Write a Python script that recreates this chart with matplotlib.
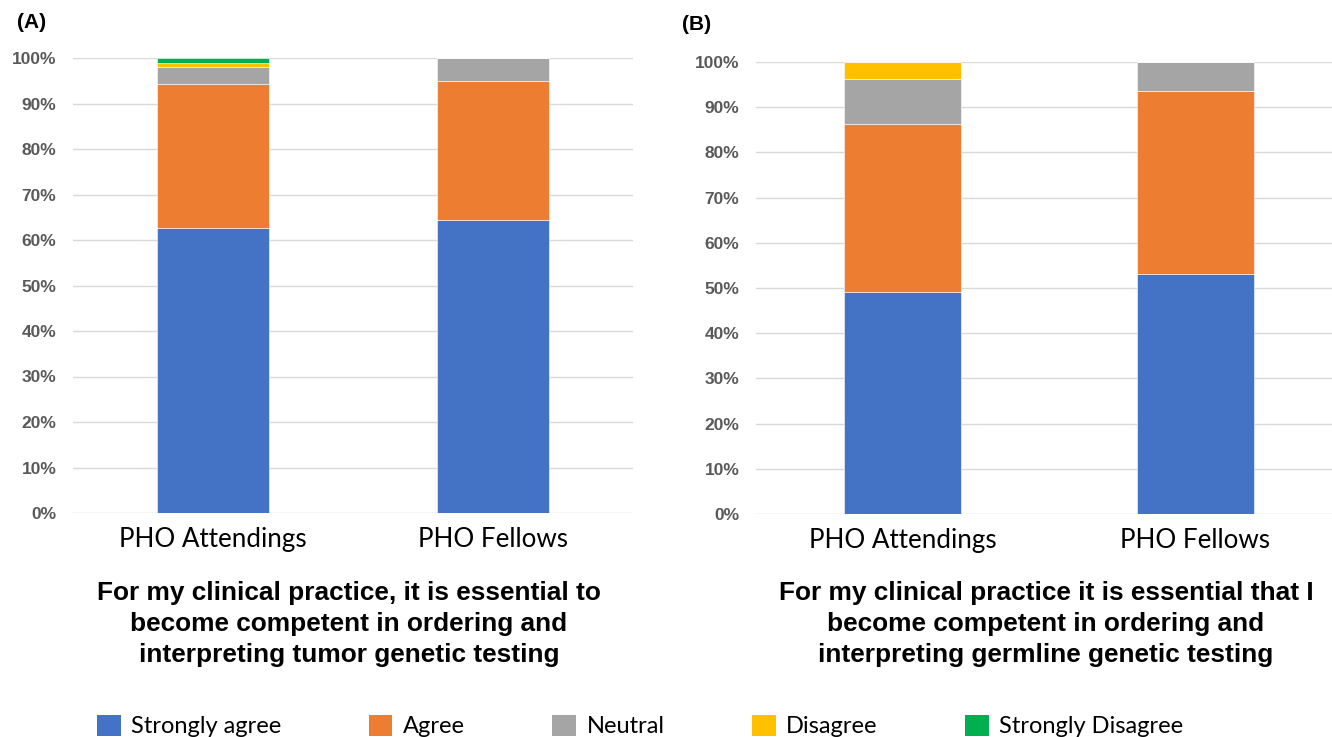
import numpy as np
import matplotlib.pyplot as plt
from matplotlib.patches import Patch

groups = ["PHO Attendings", "PHO Fellows"]
responses = ["Strongly agree", "Agree", "Neutral", "Disagree", "Strongly Disagree"]
colors = ["#4472C4", "#ED7D31", "#A5A5A5", "#FFC000", "#00B050"]

# share of respondents per response, one value per group
tumor_strongly_agree = [62.7, 64.5]
tumor_agree = [31.6, 30.4]
tumor_neutral = [3.7, 5.1]
tumor_disagree = [0.9, 0.0]
tumor_strongly_disagree = [1.1, 0.0]

germline_strongly_agree = [49.1, 53.0]
germline_agree = [37.2, 40.6]
germline_neutral = [9.9, 6.4]
germline_disagree = [3.8, 0.0]
germline_strongly_disagree = [0.0, 0.0]

title_a = ("For my clinical practice, it is essential to\n"
           "become competent in ordering and\n"
           "interpreting tumor genetic testing")
title_b = ("For my clinical practice it is essential that I\n"
           "become competent in ordering and\n"
           "interpreting germline genetic testing")

W, H = 1332, 737
fig = plt.figure(figsize=(W / 100, H / 100), dpi=100)


def px_axes(left, top, right, bottom):
    return fig.add_axes([left / W, 1 - bottom / H, (right - left) / W, (bottom - top) / H])


def stacked(ax, series, xmax):
    x = np.arange(len(groups))
    base = np.zeros(len(groups))
    for vals, c in zip(series, colors):
        vals = np.array(vals) / 100
        ax.bar(x, vals, 0.4, bottom=base, color=c, edgecolor="white", linewidth=0.4, zorder=3)
        base += vals
    ax.set_ylim(0, 1)
    ax.set_xlim(-0.5, xmax)
    ticks = np.arange(0, 1.01, 0.1)
    ax.set_yticks(ticks)
    ax.set_yticklabels([f"{int(round(t * 100))}%" for t in ticks],
                       fontsize=12.5, fontweight="bold", color="#595959", family="Liberation Sans")
    ax.set_xticks(x)
    ax.set_xticklabels(groups, fontsize=18.7, family="Lato")
    ax.tick_params(length=0, pad=10)
    ax.tick_params(axis="y", pad=12)
    ax.grid(axis="y", color="#D9D9D9", linewidth=1, zorder=0)
    for s in ax.spines.values():
        s.set_visible(False)
    ax.set_axisbelow(True)


ax_a = px_axes(73, 58, 633, 513)
stacked(ax_a, [tumor_strongly_agree, tumor_agree, tumor_neutral,
               tumor_disagree, tumor_strongly_disagree], 1.5)

ax_b = px_axes(756, 62, 1332, 514)
stacked(ax_b, [germline_strongly_agree, germline_agree, germline_neutral,
               germline_disagree, germline_strongly_disagree], 1.466)

fig.text(349 / W, 1 - 624 / H, title_a, ha="center", va="center", fontsize=18.9,
         fontweight="bold", family="Liberation Sans", linespacing=1.38)
fig.text(1046 / W, 1 - 624 / H, title_b, ha="center", va="center", fontsize=18.9,
         fontweight="bold", family="Liberation Sans", linespacing=1.38)

fig.text(17 / W, 1 - 23 / H, "(A)", ha="left", va="center", fontsize=15,
         fontweight="bold", family="Liberation Sans")
fig.text(682 / W, 1 - 24 / H, "(B)", ha="left", va="center", fontsize=15,
         fontweight="bold", family="Liberation Sans")

handles = [Patch(facecolor=c, label=r) for c, r in zip(colors, responses)]
fig.legend(handles=handles, loc="center left", bbox_to_anchor=(97 / W, 1 - 726 / H),
           ncol=5, frameon=False, prop={"family": "Lato", "size": 17},
           handlelength=1.0, handleheight=1.0, handletextpad=0.45,
           columnspacing=3.7, borderaxespad=0, borderpad=0)

fig.savefig("out.png", dpi=100)
